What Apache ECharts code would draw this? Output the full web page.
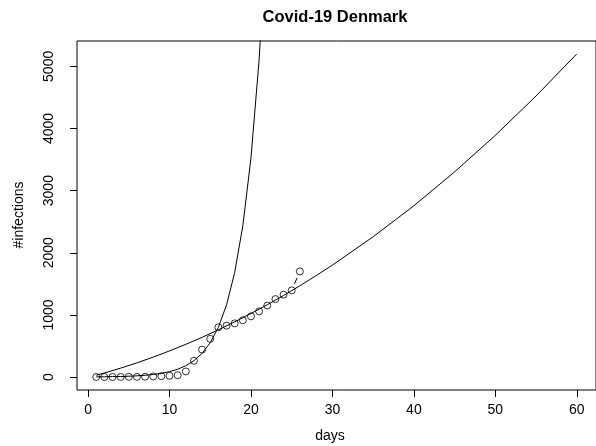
<!DOCTYPE html>
<html>
<head>
<meta charset="utf-8">
<script src="https://cdn.jsdelivr.net/npm/echarts@6/dist/echarts.min.js"></script>
<style>
  html, body { margin: 0; padding: 0; background: #fff; }
  #chart { width: 596px; height: 446px; }
</style>
</head>
<body>
<div id="chart"></div>
<script>
// Observed cumulative infections (points)
var days = [1,2,3,4,5,6,7,8,9,10,11,12,13,14,15,16,17,18,19,20,21,22,23,24,25,26];
var infections = [1,1,1,2,4,4,5,10,15,20,30,90,262,442,615,801,827,864,914,977,1057,1151,1255,1326,1395,1700];

// Exponential fit curve (clipped at top)
var expDays = [1,2,3,4,5,6,7,8,9,10,11,12,13,14,15,16,17,18,19,20,21,22];
var expValues = [3,5,7,9,14,20,29,42,60,87,126,183,264,383,554,802,1162,1682,2436,3527,5107,7395];

// Slower (polynomial) fit curve
var polyDays = [1,2,4,6,8,10,12,14,16,18,20,22,24,26,28,30,35,40,45,50,55,60];
var polyValues = [30,66,144,229,321,421,527,640,761,888,1023,1164,1313,1469,1632,1802,2258,2757,3302,3890,4523,5200];

// Tick labels
var xTicks = [0,10,20,30,40,50,60];
var yTicks = [0,1000,2000,3000,4000,5000];

var FONT = '"Liberation Sans", Arial, Helvetica, sans-serif';

var chart = echarts.init(document.getElementById('chart'), null, {renderer: 'canvas'});

var pointData = days.map(function (d, i) { return [d, infections[i]]; });
var segData = days.slice(0, -1).map(function (d, i) {
  return [d, infections[i], days[i + 1], infections[i + 1]];
});
var GAP = 7;

chart.setOption({
  animation: false,
  backgroundColor: '#ffffff',
  title: {
    text: 'Covid-19 Denmark',
    left: 330,
    textAlign: 'center',
    top: 4,
    textStyle: { fontFamily: FONT, fontSize: 16.5, fontWeight: 'bold', color: '#000' }
  },
  grid: {
    left: 77, top: 41, width: 521, height: 349,
    show: true, borderColor: '#000', borderWidth: 1, backgroundColor: 'transparent'
  },
  xAxis: {
    type: 'value', min: -1.36, max: 62.36,
    splitLine: { show: false },
    axisLine: { show: false, onZero: false },
    axisTick: { show: true, length: 7, lineStyle: { color: '#000', width: 1 }, customValues: xTicks },
    axisLabel: { show: true, customValues: xTicks, margin: 13, color: '#000', fontFamily: FONT, fontSize: 14,
      formatter: function (v) { return String(v); } }
  },
  yAxis: {
    type: 'value', min: -208, max: 5408,
    splitLine: { show: false },
    axisLine: { show: false, onZero: false },
    axisTick: { show: true, length: 7, lineStyle: { color: '#000', width: 1 }, customValues: yTicks },
    axisLabel: { show: true, customValues: yTicks, rotate: 90, margin: 21, color: '#000', fontFamily: FONT, fontSize: 14,
      formatter: function (v) { return String(v); } }
  },
  graphic: [
    { type: 'text', x: 330, y: 436, style: { text: 'days', align: 'center', verticalAlign: 'middle', font: '14px ' + FONT, fill: '#000' } },
    { type: 'text', x: 19, y: 215, rotation: Math.PI / 2, style: { text: '#infections', align: 'center', verticalAlign: 'middle', font: '14px ' + FONT, fill: '#000' } }
  ],
  series: [
    {
      type: 'line', data: expDays.map(function (d, i) { return [d, expValues[i]]; }),
      showSymbol: false, symbol: 'none', clip: true,
      lineStyle: { color: '#000', width: 1 }, z: 2
    },
    {
      type: 'line', data: polyDays.map(function (d, i) { return [d, polyValues[i]]; }),
      showSymbol: false, symbol: 'none', clip: true,
      lineStyle: { color: '#000', width: 1 }, z: 2
    },
    {
      type: 'custom', data: segData, clip: true, z: 3,
      renderItem: function (params, api) {
        var p0 = api.coord([api.value(0), api.value(1)]);
        var p1 = api.coord([api.value(2), api.value(3)]);
        var dx = p1[0] - p0[0], dy = p1[1] - p0[1];
        var d = Math.sqrt(dx * dx + dy * dy);
        if (d <= 2 * GAP) return null;
        var ux = dx / d, uy = dy / d;
        return {
          type: 'line',
          shape: { x1: p0[0] + ux * GAP, y1: p0[1] + uy * GAP, x2: p1[0] - ux * GAP, y2: p1[1] - uy * GAP },
          style: { stroke: '#000', lineWidth: 1 }
        };
      }
    },
    {
      type: 'scatter', data: pointData, symbol: 'circle', symbolSize: 7, z: 4,
      itemStyle: { color: 'rgba(255,255,255,0)', borderColor: '#000', borderWidth: 1 }
    }
  ]
});
</script>
</body>
</html>
